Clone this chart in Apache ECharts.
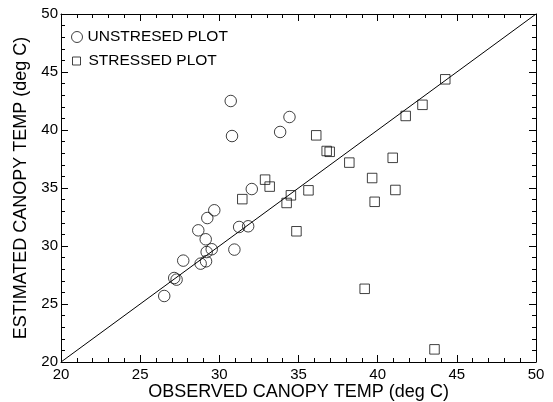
<!DOCTYPE html>
<html>
<head>
<meta charset="utf-8">
<script src="https://cdn.jsdelivr.net/npm/echarts@6/dist/echarts.min.js"></script>
<style>
html,body{margin:0;padding:0;background:#fff;}
#chart{width:553px;height:402px;}
</style>
</head>
<body>
<div id="chart"></div>
<script>
// Data
const unstressedObs = [26.52, 27.15, 27.30, 27.72, 28.67, 29.24, 29.68, 29.14, 29.20, 29.52, 28.82, 29.16, 30.95, 31.25, 31.82, 32.05, 30.72, 30.80, 33.84, 34.43];
const unstressedEst = [25.69, 27.24, 27.10, 28.74, 31.35, 32.41, 33.08, 30.58, 29.48, 29.72, 28.48, 28.68, 29.69, 31.64, 31.70, 34.91, 42.50, 39.48, 39.83, 41.12];
const stressedObs = [31.45, 32.89, 33.18, 34.52, 34.25, 34.87, 35.63, 36.12, 36.78, 36.97, 38.21, 39.65, 39.81, 40.95, 41.12, 41.77, 42.83, 44.27, 39.18, 43.59];
const stressedEst = [34.04, 35.72, 35.12, 34.37, 33.71, 31.27, 34.80, 39.54, 38.19, 38.12, 37.19, 35.86, 33.81, 37.60, 34.83, 41.21, 42.17, 44.37, 26.31, 21.09];
const lineX = [20, 50];
const lineY = [20, 50];
const axisMin = 20, axisMax = 50, axisStep = 5;
const seriesNames = ['UNSTRESED PLOT', 'STRESSED PLOT'];
const xTitle = 'OBSERVED CANOPY TEMP (deg C)';
const yTitle = 'ESTIMATED CANOPY TEMP (deg C)';

const FONT = 'Liberation Sans, Arial, Helvetica, sans-serif';
const zip = (a, b) => a.map((v, i) => [v, b[i]]);

function axisBase(extra) {
  return Object.assign({
    type: 'value', min: axisMin, max: axisMax, interval: axisStep,
    axisLine: { show: true, onZero: false, lineStyle: { color: '#000', width: 1 } },
    axisTick: { show: true, inside: true, length: 7, lineStyle: { color: '#000', width: 1 } },
    minorTick: { show: true, splitNumber: 5, length: 4, lineStyle: { color: '#000', width: 1 } },
    splitLine: { show: false },
    minorSplitLine: { show: false }
  }, extra);
}

const chart = echarts.init(document.getElementById('chart'), null, { renderer: 'canvas' });
chart.setOption({
  animation: false,
  backgroundColor: '#fff',
  textStyle: { fontFamily: FONT },
  grid: { left: 61, right: 17, top: 14, bottom: 40, containLabel: false, outerBoundsMode: 'none' },
  legend: [
    {
      data: [seriesNames[0]], orient: 'vertical', left: 71, top: 29, padding: 0,
      itemWidth: 11, itemHeight: 11,
      itemStyle: { borderWidth: 1, borderColor: '#111', color: 'transparent' },
      textStyle: { fontFamily: FONT, fontSize: 15.5, color: '#000' }
    },
    {
      data: [seriesNames[1]], orient: 'vertical', left: 72, top: 53, padding: 0,
      itemWidth: 8, itemHeight: 8,
      itemStyle: { borderWidth: 1, borderColor: '#111', color: 'transparent' },
      textStyle: { fontFamily: FONT, fontSize: 15.5, color: '#000', padding: [0, 0, 0, 3] }
    }
  ],
  xAxis: [
    axisBase({
      position: 'bottom',
      name: xTitle, nameLocation: 'middle', nameGap: 30, nameMoveOverlap: false,
      nameTextStyle: { fontFamily: FONT, fontSize: 18, color: '#000', verticalAlign: 'middle' },
      axisLabel: { show: true, margin: 5, fontFamily: FONT, fontSize: 15, color: '#000' }
    }),
    axisBase({ position: 'top', axisLabel: { show: false } })
  ],
  yAxis: [
    axisBase({
      position: 'left',
      name: yTitle, nameLocation: 'middle', nameGap: 39.5, nameRotate: 90, nameMoveOverlap: false,
      nameTextStyle: { fontFamily: FONT, fontSize: 18, color: '#000', verticalAlign: 'middle' },
      axisLabel: { show: true, margin: 3, fontFamily: FONT, fontSize: 15, color: '#000' }
    }),
    axisBase({ position: 'right', axisLabel: { show: false } })
  ],
  series: [
    {
      type: 'line', data: zip(lineX, lineY), xAxisIndex: 0, yAxisIndex: 0,
      symbol: 'none', silent: true, z: 1,
      lineStyle: { color: '#000', width: 1 }
    },
    {
      name: seriesNames[0], type: 'scatter', data: zip(unstressedObs, unstressedEst),
      xAxisIndex: 0, yAxisIndex: 0, symbol: 'circle', symbolSize: 11.5, z: 2,
      itemStyle: { color: 'transparent', borderColor: '#111', borderWidth: 1 }
    },
    {
      name: seriesNames[1], type: 'scatter', data: zip(stressedObs, stressedEst),
      xAxisIndex: 0, yAxisIndex: 0, symbol: 'rect', symbolSize: 9.5, z: 2,
      itemStyle: { color: 'transparent', borderColor: '#111', borderWidth: 1 }
    }
  ]
});
</script>
</body>
</html>
